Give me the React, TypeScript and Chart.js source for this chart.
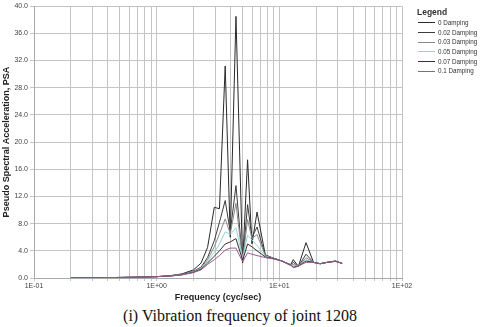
import React, { useEffect, useRef } from "react";
import { Chart, registerables } from "chart.js";

Chart.register(...registerables);

// Frequency (cyc/sec)
const frequencies = [0.2, 0.3, 0.5, 0.7, 1.0, 1.3, 1.6, 2.0, 2.3, 2.6, 2.95, 3.25, 3.62, 3.98, 4.43, 5.02, 5.51, 5.98, 6.58, 7.69, 9.0, 10.5, 12.3, 13.0, 14.3, 16.5, 19.0, 21.5, 24.5, 28.7, 32.5];

// PSA values per damping ratio
const damping0 = [0.05, 0.05, 0.08, 0.12, 0.2, 0.35, 0.6, 1.2, 2.2, 4.5, 10.4, 10.2, 31.2, 6.0, 38.5, 2.2, 17.4, 5.0, 9.7, 3.4, 2.9, 2.5, 1.9, 2.7, 1.7, 5.2, 2.3, 2.1, 2.3, 2.5, 2.15];
const damping002 = [0.05, 0.05, 0.08, 0.12, 0.2, 0.33, 0.55, 1.0, 1.6, 3.0, 5.5, 8.2, 11.4, 6.8, 13.6, 2.4, 10.8, 6.0, 7.5, 3.3, 2.9, 2.5, 1.9, 2.3, 1.7, 3.5, 2.3, 2.1, 2.3, 2.5, 2.15];
const damping003 = [0.05, 0.05, 0.08, 0.12, 0.2, 0.32, 0.52, 0.95, 1.5, 2.7, 4.6, 6.5, 8.7, 6.5, 11.0, 2.6, 8.6, 5.8, 6.4, 3.3, 2.9, 2.5, 1.9, 2.0, 1.7, 3.0, 2.3, 2.1, 2.3, 2.5, 2.15];
const damping005 = [0.05, 0.05, 0.08, 0.12, 0.2, 0.31, 0.5, 0.9, 1.4, 2.4, 3.8, 5.0, 6.8, 6.4, 7.4, 2.9, 6.3, 5.6, 4.8, 3.2, 2.85, 2.5, 1.95, 1.8, 1.75, 2.7, 2.3, 2.1, 2.3, 2.45, 2.15];
const damping007 = [0.05, 0.05, 0.08, 0.12, 0.2, 0.3, 0.48, 0.85, 1.3, 2.2, 3.2, 4.0, 5.0, 5.3, 5.8, 2.6, 5.0, 4.6, 4.0, 3.1, 2.85, 2.5, 1.95, 1.6, 1.75, 2.5, 2.3, 2.1, 2.3, 2.45, 2.15];
const damping01 = [0.05, 0.05, 0.08, 0.12, 0.2, 0.3, 0.45, 0.8, 1.2, 2.0, 2.7, 3.3, 4.1, 4.4, 4.4, 2.4, 3.7, 3.5, 3.3, 3.0, 2.8, 2.5, 2.0, 1.5, 1.75, 2.3, 2.3, 2.1, 2.3, 2.45, 2.15];

const seriesNames = ["0 Damping", "0.02 Damping", "0.03 Damping", "0.05 Damping", "0.07 Damping", "0.1 Damping"];
const seriesValues = [damping0, damping002, damping003, damping005, damping007, damping01];
const seriesColors = ["#2a2a2a", "#3c3c3c", "#8a8a8a", "#8fd6d2", "#3e2e30", "#9a5a92"];

// Axis ticks
const xGridValues = [0.1, 0.2, 0.3, 0.4, 0.5, 0.6, 0.7, 0.8, 0.9, 1, 2, 3, 4, 5, 6, 7, 8, 9, 10, 20, 30, 40, 50, 60, 70, 80, 90, 100];
const xDecadeValues = [0.1, 1, 10, 100];
const xTickLabels = ["1E-01", "1E+00", "1E+01", "1E+02"];
const yTickValues = [0, 4, 8, 12, 16, 20, 24, 28, 32, 36, 40];
const yTickLabels = ["0.0", "4.0", "8.0", "12.0", "16.0", "20.0", "24.0", "28.0", "32.0", "36.0", "40.0"];

const SANS = "'Liberation Sans', Arial, sans-serif";

export default function App() {
  const canvasRef = useRef<HTMLCanvasElement | null>(null);

  useEffect(() => {
    const canvas = canvasRef.current;
    if (!canvas) return;
    const datasets = seriesNames.map((name, i) => ({
      label: name,
      data: frequencies.map((f, j) => ({ x: f, y: seriesValues[i][j] })),
      borderColor: seriesColors[i],
      backgroundColor: seriesColors[i],
      borderWidth: 1,
      pointRadius: 0,
      tension: 0,
      fill: false,
      order: seriesNames.length - i,
    }));
    const chart = new Chart(canvas, {
      type: "line",
      data: { datasets },
      options: {
        responsive: false,
        animation: false,
        layout: { padding: { left: 0, top: 5, right: 78, bottom: 0 } },
        plugins: { legend: { display: false }, tooltip: { enabled: false } },
        scales: {
          x: {
            type: "logarithmic",
            min: 0.1,
            max: 100,
            afterBuildTicks: (s: any) => {
              s.ticks = xGridValues.map((v) => ({ value: v }));
            },
            afterFit: (s: any) => {
              s.height = 27;
            },
            ticks: {
              autoSkip: false,
              maxRotation: 0,
              padding: 1,
              color: "#444",
              font: { family: SANS, size: 7 },
              callback: (v: any) => {
                const idx = xDecadeValues.findIndex((d) => Math.abs(Math.log10(d) - Math.log10(Number(v))) < 1e-6);
                return idx >= 0 ? xTickLabels[idx] : "";
              },
            },
            grid: { color: "#c4c4c4", lineWidth: 1, tickLength: 3 },
            border: { color: "#a8a8a8" },
            title: {
              display: true,
              text: "Frequency (cyc/sec)",
              color: "#222",
              font: { family: SANS, size: 9, weight: "bold" },
              padding: { top: 2, bottom: 2 },
            },
          },
          y: {
            min: 0,
            max: 40,
            afterBuildTicks: (s: any) => {
              s.ticks = yTickValues.map((v) => ({ value: v }));
            },
            afterFit: (s: any) => {
              s.width = 34;
            },
            ticks: {
              padding: 2,
              color: "#444",
              font: { family: SANS, size: 7 },
              callback: (v: any) => {
                const idx = yTickValues.indexOf(Number(v));
                return idx >= 0 ? yTickLabels[idx] : "";
              },
            },
            grid: { color: "#c4c4c4", lineWidth: 1, tickLength: 4 },
            border: { color: "#a8a8a8" },
            title: {
              display: true,
              text: "Pseudo Spectral Acceleration, PSA",
              color: "#222",
              font: { family: SANS, size: 9, weight: "bold" },
              padding: { top: 1, bottom: 0 },
            },
          },
        },
      },
    } as any);
    return () => chart.destroy();
  }, []);

  return (
    <div style={{ position: "absolute", left: 0, top: 0, width: 480, height: 327, background: "#fff", overflow: "hidden" }}>
      <canvas ref={canvasRef} width={480} height={305} style={{ position: "absolute", left: 0, top: 0, width: 480, height: 305 }} />
      <div style={{ position: "absolute", left: 417, top: 7, fontFamily: SANS, color: "#333" }}>
        <div style={{ fontSize: 8.5, fontWeight: "bold", lineHeight: "11px", color: "#333" }}>Legend</div>
        {seriesNames.map((name, i) => (
          <div key={name} style={{ display: "flex", alignItems: "center", height: 9.7, fontSize: 6.3, lineHeight: "9.7px" }}>
            <span style={{ display: "inline-block", width: 17, height: 0, borderTop: `1px solid ${seriesColors[i]}`, marginLeft: 1, marginRight: 3 }} />
            <span style={{ whiteSpace: "nowrap" }}>{name}</span>
          </div>
        ))}
      </div>
      <div
        style={{
          position: "absolute",
          left: 0,
          top: 306,
          width: 480,
          textAlign: "center",
          fontFamily: "'Liberation Serif', 'Times New Roman', serif",
          fontSize: 16,
          lineHeight: "20px",
          color: "#111",
        }}
      >
        (i) Vibration frequency of joint 1208
      </div>
    </div>
  );
}
